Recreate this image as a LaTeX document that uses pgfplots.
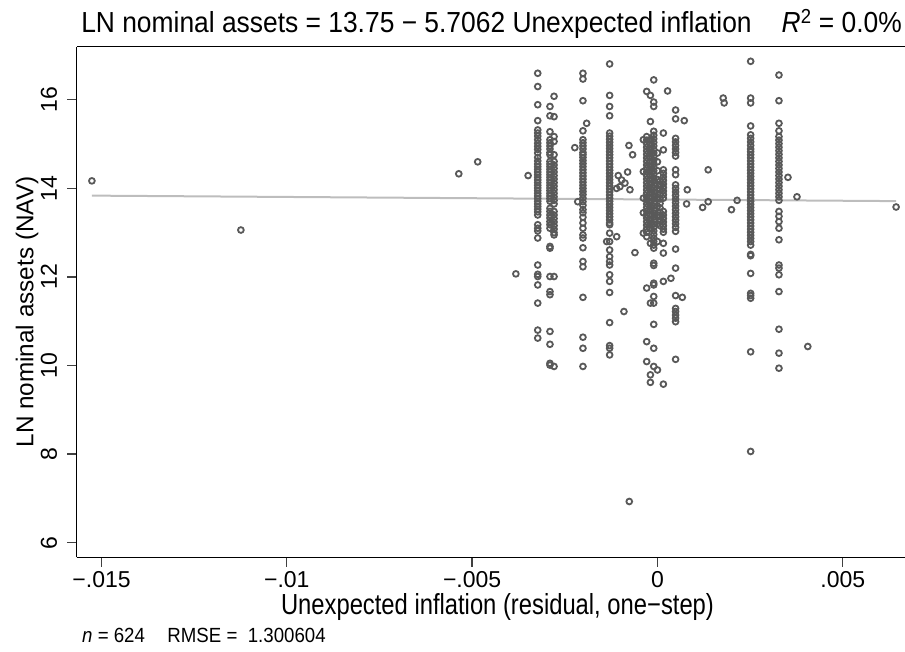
\documentclass[border=0pt]{standalone}
\usepackage{fontspec}
\setmainfont{Liberation Sans}
\newfontfamily\narrow[FakeStretch=0.82]{Liberation Sans}
\newfontfamily\narrowb[FakeStretch=0.91]{Liberation Sans}
\usepackage{pgfplots}
\pgfplotsset{compat=1.18}
\definecolor{mk}{HTML}{595959}
\definecolor{fit}{HTML}{BDBDBD}
\begin{document}
\begin{tikzpicture}
\useasboundingbox (-76.7pt,-94.7pt) rectangle (828.3pt,557.3pt);
\begin{axis}[
  at={(0pt,0pt)}, anchor=south west, scale only axis,
  width=828.3pt, height=510.6pt,
  xmin=-0.01567, xmax=0.00668, ymin=5.67, ymax=17.20,
  axis x line*=box, axis y line*=left,
  scaled x ticks=false,
  xtick={-0.015,-0.01,-0.005,0,0.005},
  xticklabels={−.015,−.01,−.005,0,.005},
  ytick={6,8,10,12,14,16},
  yticklabels={6,8,10,12,14,16},
  xtick pos=left, ytick pos=left,
  tick align=outside, major tick length=9.5pt,
  tick style={line width=1.3pt, color=black!75},
  axis line style={line width=1.5pt, color=black},
  ticklabel style={font=\fontsize{23}{27}\selectfont, inner sep=0pt},
  xticklabel style={anchor=north, yshift=-4pt},
  yticklabel style={rotate=90, anchor=south, yshift=10pt},
  clip=false,
]
\addplot[fit, line width=2pt] coordinates {(-0.01526,13.837) (0.00644,13.713)};
\addplot[only marks, mark=o, mark size=2.9pt, mark options={line width=1.8pt, draw=mk}] table {
x y
-0.01526 14.17
-0.01124 13.06
-0.00536 14.33
-0.00485 14.60
-0.00382 12.07
-0.00349 14.29
-0.00323 16.60
-0.00323 16.30
-0.00323 15.89
-0.00323 15.53
-0.00323 15.32
-0.00323 15.25
-0.00323 15.18
-0.00323 15.10
-0.00323 15.02
-0.00323 14.95
-0.00323 14.88
-0.00323 14.80
-0.00323 14.70
-0.00323 14.62
-0.00323 14.55
-0.00323 14.49
-0.00323 14.43
-0.00323 14.37
-0.00323 14.31
-0.00323 14.25
-0.00323 14.19
-0.00323 14.13
-0.00323 14.07
-0.00323 14.01
-0.00323 13.95
-0.00323 13.89
-0.00323 13.83
-0.00323 13.77
-0.00323 13.71
-0.00323 13.65
-0.00323 13.59
-0.00323 13.53
-0.00323 13.47
-0.00323 13.40
-0.00323 13.18
-0.00323 13.10
-0.00323 13.04
-0.00323 12.88
-0.00323 12.27
-0.00323 12.06
-0.00323 12.01
-0.00323 11.82
-0.00323 11.41
-0.00323 10.80
-0.00323 10.62
-0.00290 15.85
-0.00290 15.64
-0.00290 15.28
-0.00290 15.10
-0.00290 15.03
-0.00290 14.96
-0.00290 14.89
-0.00290 14.81
-0.00290 14.76
-0.00290 14.61
-0.00290 14.55
-0.00290 14.49
-0.00290 14.43
-0.00290 14.37
-0.00290 14.31
-0.00290 14.25
-0.00290 14.19
-0.00290 14.13
-0.00290 14.07
-0.00290 14.01
-0.00290 13.95
-0.00290 13.89
-0.00290 13.83
-0.00290 13.77
-0.00290 13.71
-0.00290 13.55
-0.00290 13.48
-0.00290 13.40
-0.00290 13.33
-0.00290 13.25
-0.00290 13.18
-0.00290 13.10
-0.00290 12.69
-0.00290 12.65
-0.00290 12.01
-0.00290 11.67
-0.00290 11.60
-0.00290 10.77
-0.00290 10.48
-0.00290 10.05
-0.00290 10.01
-0.00279 16.08
-0.00279 15.62
-0.00279 15.17
-0.00279 15.06
-0.00279 14.76
-0.00279 14.61
-0.00279 14.53
-0.00279 14.45
-0.00279 14.37
-0.00279 14.29
-0.00279 14.21
-0.00279 14.13
-0.00279 14.05
-0.00279 13.97
-0.00279 13.89
-0.00279 13.81
-0.00279 13.73
-0.00279 13.65
-0.00279 13.48
-0.00279 13.40
-0.00279 13.32
-0.00279 13.24
-0.00279 13.16
-0.00279 13.08
-0.00279 13.00
-0.00279 12.95
-0.00279 12.01
-0.00279 9.98
-0.00201 16.60
-0.00201 16.47
-0.00201 15.98
-0.00201 15.30
-0.00201 15.10
-0.00201 15.03
-0.00201 14.96
-0.00201 14.89
-0.00201 14.81
-0.00201 14.76
-0.00201 14.70
-0.00201 14.63
-0.00201 14.56
-0.00201 14.49
-0.00201 14.42
-0.00201 14.35
-0.00201 14.28
-0.00201 14.21
-0.00201 14.14
-0.00201 14.07
-0.00201 14.00
-0.00201 13.93
-0.00201 13.86
-0.00201 13.78
-0.00201 13.70
-0.00201 13.62
-0.00201 13.52
-0.00201 13.45
-0.00201 13.35
-0.00201 13.22
-0.00201 13.10
-0.00201 12.95
-0.00201 12.88
-0.00201 12.66
-0.00201 12.35
-0.00201 12.23
-0.00201 11.54
-0.00201 10.64
-0.00201 10.39
-0.00201 9.98
-0.00191 15.47
-0.00223 14.92
-0.00215 13.70
-0.00129 16.81
-0.00129 16.10
-0.00129 15.85
-0.00129 15.64
-0.00129 15.25
-0.00129 15.18
-0.00129 15.11
-0.00129 15.04
-0.00129 14.97
-0.00129 14.90
-0.00129 14.83
-0.00129 14.76
-0.00129 14.69
-0.00129 14.62
-0.00129 14.55
-0.00129 14.48
-0.00129 14.41
-0.00129 14.34
-0.00129 14.27
-0.00129 14.20
-0.00129 14.13
-0.00129 14.06
-0.00129 13.99
-0.00129 13.92
-0.00129 13.85
-0.00129 13.78
-0.00129 13.71
-0.00129 13.64
-0.00129 13.57
-0.00129 13.50
-0.00129 13.43
-0.00129 13.36
-0.00129 13.29
-0.00129 13.22
-0.00129 13.18
-0.00129 12.99
-0.00129 12.80
-0.00129 12.61
-0.00129 12.46
-0.00129 12.35
-0.00129 12.27
-0.00129 12.05
-0.00129 11.90
-0.00129 11.65
-0.00129 10.97
-0.00129 10.45
-0.00129 10.39
-0.00129 10.24
-0.00137 12.80
-0.00110 12.91
-0.001057 14.29
-0.000967 14.19
-0.000877 14.12
-0.000805 14.37
-0.001102 14.00
-0.001012 14.04
-0.000742 13.97
-0.000769 14.97
-0.000670 14.76
-0.000607 12.55
-0.000904 11.22
-0.000760 6.93
-0.00029 16.19
-0.00029 15.17
-0.00029 15.09
-0.00029 15.01
-0.00029 14.93
-0.00029 14.85
-0.00029 14.77
-0.00029 14.69
-0.00029 14.61
-0.00029 14.53
-0.00029 14.45
-0.00029 14.37
-0.00029 14.29
-0.00029 14.21
-0.00029 14.13
-0.00029 14.05
-0.00029 13.97
-0.00029 13.89
-0.00029 13.81
-0.00029 13.73
-0.00029 13.65
-0.00029 13.57
-0.00029 13.49
-0.00029 13.41
-0.00029 13.33
-0.00029 13.25
-0.00029 13.17
-0.00029 13.09
-0.00029 13.01
-0.00029 12.91
-0.00029 11.75
-0.00029 10.54
-0.00029 10.09
-0.00038 15.10
-0.00038 14.38
-0.00038 13.78
-0.00038 13.45
-0.00038 12.99
-0.00019 16.10
-0.00019 15.51
-0.00019 15.10
-0.00019 15.00
-0.00019 14.90
-0.00019 14.80
-0.00019 14.70
-0.00019 14.60
-0.00019 14.50
-0.00019 14.40
-0.00019 14.30
-0.00019 14.20
-0.00019 14.10
-0.00019 14.00
-0.00019 13.90
-0.00019 13.80
-0.00019 13.70
-0.00019 13.60
-0.00019 13.50
-0.00019 13.40
-0.00019 13.30
-0.00019 13.20
-0.00019 13.10
-0.00019 12.76
-0.00019 11.41
-0.00019 9.79
-0.00019 9.62
-0.00010 16.45
-0.00010 15.95
-0.00010 15.85
-0.00010 15.29
-0.00010 15.20
-0.00010 15.12
-0.00010 15.04
-0.00010 14.96
-0.00010 14.88
-0.00010 14.80
-0.00010 14.72
-0.00010 14.64
-0.00010 14.56
-0.00010 14.48
-0.00010 14.40
-0.00010 14.32
-0.00010 14.24
-0.00010 14.16
-0.00010 14.08
-0.00010 14.00
-0.00010 13.92
-0.00010 13.84
-0.00010 13.76
-0.00010 13.68
-0.00010 13.60
-0.00010 13.52
-0.00010 13.44
-0.00010 13.36
-0.00010 13.28
-0.00010 13.20
-0.00010 13.12
-0.00010 13.04
-0.00010 12.96
-0.00010 12.88
-0.00010 12.80
-0.00010 12.72
-0.00010 12.65
-0.00010 12.31
-0.00010 12.26
-0.00010 11.86
-0.00010 11.82
-0.00010 11.56
-0.00010 11.41
-0.00010 10.93
-0.00010 10.39
-0.00010 9.98
0.00000 14.80
0.00000 14.60
0.00000 14.40
0.00000 14.20
0.00000 14.00
0.00000 13.80
0.00000 13.60
0.00000 13.40
0.00000 13.20
0.00000 12.80
0.00000 9.90
0.00007 14.16
0.00007 14.06
0.00007 13.96
0.00007 13.86
0.00007 13.76
0.00007 13.66
0.00007 13.56
0.00007 13.46
0.00007 13.36
0.00007 13.26
0.00007 13.16
0.00016 15.25
0.00016 14.87
0.00016 14.42
0.00016 14.34
0.00016 14.26
0.00016 14.18
0.00016 14.10
0.00016 14.02
0.00016 13.94
0.00016 13.86
0.00016 13.78
0.00016 13.48
0.00016 13.40
0.00016 13.32
0.00016 13.24
0.00016 13.16
0.00016 13.08
0.00016 13.01
0.00016 12.76
0.00016 12.54
0.00016 11.90
0.00016 9.58
0.000274 16.20
0.000364 11.97
0.00049 15.77
0.00049 15.57
0.00049 15.13
0.00049 15.05
0.00049 14.97
0.00049 14.89
0.00049 14.81
0.00049 14.73
0.00049 14.42
0.00049 14.31
0.00049 14.08
0.00049 14.00
0.00049 13.92
0.00049 13.84
0.00049 13.76
0.00049 13.68
0.00049 13.60
0.00049 13.52
0.00049 13.44
0.00049 13.36
0.00049 13.28
0.00049 13.20
0.00049 13.12
0.00049 13.03
0.00049 12.63
0.00049 12.20
0.00049 11.58
0.00049 11.29
0.00049 11.22
0.00049 11.14
0.00049 11.07
0.00049 10.99
0.00049 10.14
0.000724 15.53
0.000805 13.97
0.000787 13.65
0.000671 11.54
0.001219 13.57
0.001369 13.70
0.001369 14.42
0.001774 16.04
0.001800 15.93
0.001997 13.52
0.002150 13.73
0.002515 16.87
0.002515 16.04
0.002515 15.93
0.002515 15.41
0.002515 15.21
0.002515 15.13
0.002515 15.05
0.002515 14.97
0.002515 14.89
0.002515 14.83
0.002515 14.76
0.002515 14.69
0.002515 14.62
0.002515 14.55
0.002515 14.48
0.002515 14.41
0.002515 14.34
0.002515 14.27
0.002515 14.20
0.002515 14.13
0.002515 14.06
0.002515 13.99
0.002515 13.92
0.002515 13.85
0.002515 13.78
0.002515 13.71
0.002515 13.64
0.002515 13.57
0.002515 13.50
0.002515 13.43
0.002515 13.36
0.002515 13.29
0.002515 13.22
0.002515 13.15
0.002515 13.08
0.002515 13.01
0.002515 12.94
0.002515 12.87
0.002515 12.80
0.002515 12.72
0.002515 12.51
0.002515 12.48
0.002515 12.08
0.002515 11.63
0.002515 11.58
0.002515 11.52
0.002515 10.31
0.002515 8.06
0.003279 16.56
0.003279 15.98
0.003279 15.47
0.003279 15.30
0.003279 15.17
0.003279 15.09
0.003279 15.01
0.003279 14.93
0.003279 14.85
0.003279 14.77
0.003279 14.69
0.003279 14.61
0.003279 14.53
0.003279 14.45
0.003279 14.37
0.003279 14.29
0.003279 14.21
0.003279 14.13
0.003279 14.05
0.003279 13.97
0.003279 13.89
0.003279 13.81
0.003279 13.73
0.003279 13.48
0.003279 13.37
0.003279 13.25
0.003279 13.10
0.003279 12.84
0.003279 12.27
0.003279 12.20
0.003279 12.05
0.003279 11.67
0.003279 10.82
0.003279 10.28
0.003279 9.94
0.003522 14.25
0.003765 13.81
0.004057 10.43
0.006440 13.58
};
\end{axis}
\node[anchor=base east, inner sep=0pt, font=\narrowb\fontsize{29}{33}\selectfont] at (825.3pt,524.3pt)
  {LN nominal assets = 13.75 − 5.7062 Unexpected inflation\hspace{30pt}\textit{R}\textsuperscript{2} = 0.0\%};
\node[anchor=base, inner sep=0pt, font=\narrow\fontsize{29}{33}\selectfont] at (420.8pt,-57.7pt)
  {Unexpected inflation (residual, one−step)};
\node[anchor=base, inner sep=0pt, rotate=90, font=\fontsize{24.3}{28}\selectfont] at (-43.4pt,245.3pt)
  {LN nominal assets (NAV)};
\node[anchor=base west, inner sep=0pt, font=\narrowb\fontsize{20.5}{24}\selectfont] at (5.3pt,-85.7pt)
  {\textit{n} = 624\hspace{1.1em}RMSE = \ 1.300604};
\end{tikzpicture}
\end{document}
